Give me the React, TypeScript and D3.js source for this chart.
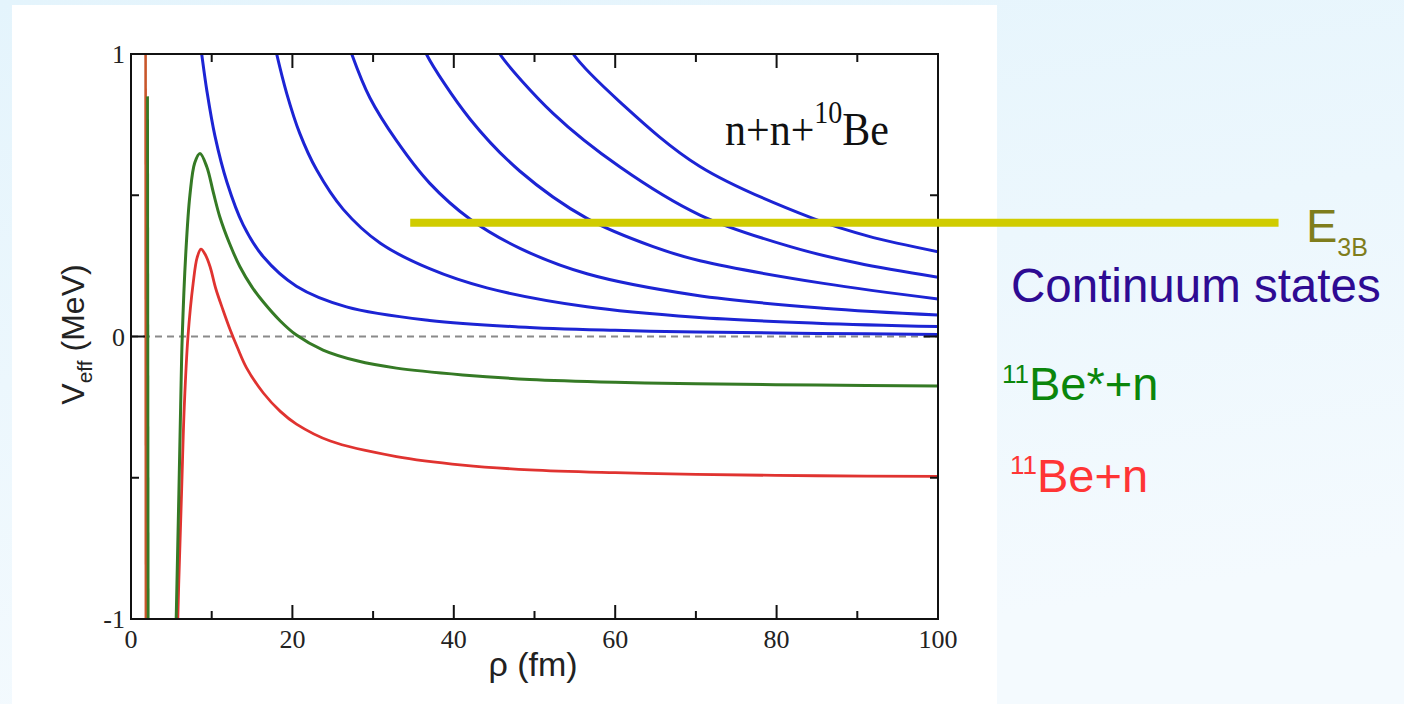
import React from "react";
import * as d3 from "d3";

// ---- data (rho in fm, V_eff in MeV) ----
const xTicksMajor = [0, 20, 40, 60, 80, 100];
const xTicksMinor = [10, 30, 50, 70, 90];
const yTicksMajor = [-1, 0, 1];
const yTicksMinor = [-0.5, 0.5];

const blue1: [number, number][] = [
  [8.4, 1.08], [8.76, 1], [9.4, 0.87], [10.4, 0.71], [11.9, 0.545], [13.9, 0.395],
  [16.4, 0.282], [20.5, 0.178], [26.7, 0.105], [37, 0.057], [48, 0.034],
  [60, 0.022], [70, 0.016], [85, 0.011], [100, 0.007],
];
const blue2: [number, number][] = [
  [17.6, 1.06], [18.05, 1], [19.3, 0.86], [20.9, 0.72], [23.0, 0.59], [26.3, 0.45],
  [30.9, 0.33], [37, 0.24], [44.1, 0.172], [56.5, 0.105], [70, 0.068],
  [85, 0.047], [100, 0.035],
];
const blue3: [number, number][] = [
  [26.8, 1.05], [27.35, 1], [29.6, 0.845], [32.9, 0.693], [37, 0.543], [42, 0.416],
  [48.2, 0.312], [56.5, 0.222], [70, 0.146], [85.8, 0.1], [100, 0.076],
];
const blue4: [number, number][] = [
  [36.1, 1.04], [36.6, 1], [42, 0.77], [48.2, 0.585], [56.5, 0.418], [64.7, 0.318],
  [70.5, 0.268], [85.8, 0.188], [100, 0.133],
];
const blue5: [number, number][] = [
  [45.2, 1.03], [45.7, 1], [52.3, 0.79], [60.6, 0.6], [70.5, 0.43], [81.7, 0.318],
  [90, 0.26], [100, 0.21],
];
const blue6: [number, number][] = [
  [54.3, 1.03], [54.8, 1], [60.6, 0.83], [70.5, 0.602], [84.5, 0.418], [92, 0.35],
  [100, 0.3],
];
const greenWall: [number, number][] = [[2.05, 0.85], [2.15, -1.5]];
const green: [number, number][] = [
  [5.3, -1.5], [5.6, -1], [5.9, -0.6], [6.15, -0.25],
  [6.35, 0], [6.8, 0.3], [7.3, 0.5], [7.9, 0.615], [8.55, 0.648], [9.4, 0.6],
  [10.2, 0.51], [11.0, 0.424], [12.2, 0.33], [13.5, 0.247], [15, 0.175],
  [16.4, 0.122], [18.5, 0.055], [20.5, 0.005], [23.8, -0.048], [28, -0.086],
  [32.9, -0.112], [41.1, -0.136], [49.4, -0.152], [60, -0.162], [70, -0.167],
  [85, -0.172], [100, -0.175],
];
const redWall: [number, number][] = [[1.8, 1.5], [1.85, -1.5]];
const red: [number, number][] = [
  [5.5, -1.5], [5.8, -1], [6.28, -0.54], [6.6, -0.25],
  [7.06, 0], [7.7, 0.188], [8.2, 0.28], [8.67, 0.309], [9.2, 0.29], [9.8, 0.247],
  [10.5, 0.17], [11.4, 0.094], [12.3, 0.023], [13.2, -0.04], [14.3, -0.11],
  [16.4, -0.2], [18.5, -0.265], [20.5, -0.31], [24.7, -0.37], [32.9, -0.425],
  [41.1, -0.455], [49.4, -0.472], [60, -0.482], [70, -0.488], [85, -0.493],
  [100, -0.495],
];
const blueCurves = [blue1, blue2, blue3, blue4, blue5, blue6];

// E_3B threshold annotation
const e3b = 0.403;
const e3bStart = 34.6;
const e3bEnd = 142.2;

const W = 1404;
const H = 704;
const L = 131, R = 938, T = 54, B = 619;

export default function App() {
  const x = d3.scaleLinear().domain([0, 100]).range([L, R]);
  const y = d3.scaleLinear().domain([-1, 1]).range([B, T]);
  const smooth = d3
    .line<[number, number]>()
    .x((d) => x(d[0]))
    .y((d) => y(d[1]))
    .curve(d3.curveCatmullRom.alpha(0.5));
  const straight = d3
    .line<[number, number]>()
    .x((d) => x(d[0]))
    .y((d) => y(d[1]));

  const serif = "'Liberation Serif', 'Times New Roman', serif";
  const sans = "'Liberation Sans', Arial, sans-serif";

  return (
    <div style={{ position: "absolute", left: 0, top: 0 }}>
      <svg width={W} height={H} style={{ display: "block" }}>
        <defs>
          <linearGradient id="bg" x1="0" y1="0" x2="0.3" y2="1">
            <stop offset="0" stopColor="#e4f4fc" />
            <stop offset="1" stopColor="#f4fafe" />
          </linearGradient>
          <clipPath id="plotClip">
            <rect x={L} y={T} width={R - L} height={B - T} />
          </clipPath>
        </defs>
        <rect x={0} y={0} width={W} height={H} fill="url(#bg)" />
        <rect x={12} y={5} width={985} height={H - 5} fill="#ffffff" />

        {/* zero line */}
        <line
          x1={x(0)} x2={x(100)} y1={y(0)} y2={y(0)}
          stroke="#8a8a8a" strokeWidth={2} strokeDasharray="7,5"
        />

        <g clipPath="url(#plotClip)" fill="none" strokeLinejoin="round">
          {blueCurves.map((c, i) => (
            <path key={i} d={smooth(c) || ""} stroke="#1c24d4" strokeWidth={3} />
          ))}
          <path d={straight(redWall) || ""} stroke="#c8562a" strokeWidth={2.6} />
          <path d={smooth(red) || ""} stroke="#e03330" strokeWidth={2.8} />
          <path d={straight(greenWall) || ""} stroke="#357a25" strokeWidth={2.8} />
          <path d={smooth(green) || ""} stroke="#357a25" strokeWidth={3} />
        </g>

        {/* frame */}
        <rect x={L} y={T} width={R - L} height={B - T} fill="none" stroke="#111" strokeWidth={2} />

        {/* ticks */}
        <g stroke="#111" strokeWidth={2}>
          {xTicksMajor.map((t) => (
            <g key={"xM" + t}>
              <line x1={x(t)} x2={x(t)} y1={B} y2={B - 14} />
              <line x1={x(t)} x2={x(t)} y1={T} y2={T + 14} />
            </g>
          ))}
          {xTicksMinor.map((t) => (
            <g key={"xm" + t}>
              <line x1={x(t)} x2={x(t)} y1={B} y2={B - 8} />
              <line x1={x(t)} x2={x(t)} y1={T} y2={T + 8} />
            </g>
          ))}
          {yTicksMajor.map((t) => (
            <g key={"yM" + t}>
              <line x1={L} x2={L + 14} y1={y(t)} y2={y(t)} />
              <line x1={R} x2={R - 14} y1={y(t)} y2={y(t)} />
            </g>
          ))}
          {yTicksMinor.map((t) => (
            <g key={"ym" + t}>
              <line x1={L} x2={L + 8} y1={y(t)} y2={y(t)} />
              <line x1={R} x2={R - 8} y1={y(t)} y2={y(t)} />
            </g>
          ))}
        </g>

        {/* tick labels */}
        <g fontFamily={serif} fontSize={26} fill="#222">
          {xTicksMajor.map((t) => (
            <text key={"xl" + t} x={x(t)} y={648} textAnchor="middle">{t}</text>
          ))}
          {yTicksMajor.map((t) => (
            <text key={"yl" + t} x={L - 6} y={y(t) + 9} textAnchor="end">
              {t === -1 ? "-1" : String(t)}
            </text>
          ))}
        </g>

        {/* axis titles */}
        <text x={533} y={676} textAnchor="middle" fontFamily={sans} fontSize={34} fill="#222">
          ρ (fm)
        </text>
        <text
          transform={`translate(84, ${y(0) - 2}) rotate(-90)`}
          textAnchor="middle" fontFamily={sans} fontSize={32} fill="#222"
        >
          V<tspan fontSize={21} dy={8}>eff</tspan>
          <tspan dy={-8}> (MeV)</tspan>
        </text>

        {/* plot title */}
        <text
          transform="translate(725,145) scale(1,1.12)"
          fontFamily={serif} fontSize={42} fill="#111"
        >
          n+n+<tspan fontSize={28} dy={-20}>10</tspan>
          <tspan dy={20}>Be</tspan>
        </text>

        {/* E3B line */}
        <line
          x1={x(e3bStart)} x2={x(e3bEnd)} y1={y(e3b)} y2={y(e3b)}
          stroke="#d0cc00" strokeWidth={8}
        />

        {/* right annotations */}
        <g fontFamily={sans}>
          <text x={1306} y={242} fontSize={47} fill="#7f7d1c">
            E<tspan fontSize={25} dy={14}>3B</tspan>
          </text>
          <text x={1011} y={302} fontSize={47.5} fill="#2e0b93">
            Continuum states
          </text>
          <text x={1002} y={400} fontSize={47} fill="#0b860b">
            <tspan fontSize={26} dy={-17}>11</tspan>
            <tspan dy={17}>Be*+n</tspan>
          </text>
          <text x={1010} y={492} fontSize={47} fill="#ff3535">
            <tspan fontSize={26} dy={-18}>11</tspan>
            <tspan dy={18}>Be+n</tspan>
          </text>
        </g>
      </svg>
    </div>
  );
}
